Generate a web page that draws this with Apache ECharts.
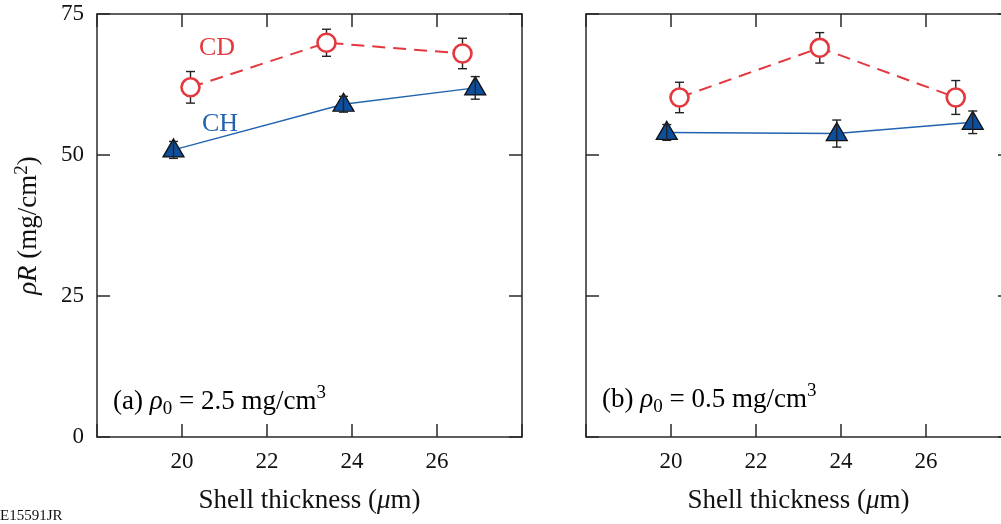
<!DOCTYPE html>
<html>
<head>
<meta charset="utf-8">
<script src="https://cdn.jsdelivr.net/npm/echarts@6/dist/echarts.min.js"></script>
<style>
html,body{margin:0;padding:0;background:#fff;}
#chart{width:1001px;height:524px;}
</style>
</head>
<body>
<div id="chart"></div>
<script>
// ---- data ----
const xTickValues = [20, 22, 24, 26];
const yTickValues = [0, 25, 50, 75];

// panel (a) rho0 = 2.5 mg/cm3
const aCD_x = [20.2, 23.4, 26.6];
const aCD_y = [62.0, 69.9, 68.0];
const aCD_err = [2.8, 2.4, 2.7];
const aCH_x = [19.8, 23.8, 26.9];
const aCH_y = [50.9, 59.0, 61.9];
const aCH_err = [1.5, 1.4, 2.0];

// panel (b) rho0 = 0.5 mg/cm3
const bCD_x = [20.2, 23.5, 26.7];
const bCD_y = [60.2, 69.0, 60.2];
const bCD_err = [2.7, 2.7, 3.0];
const bCH_x = [19.9, 23.9, 27.1];
const bCH_y = [54.0, 53.8, 55.8];
const bCH_err = [1.4, 2.4, 2.0];

const FONT = '"Liberation Serif", "Times New Roman", serif';
const RED = '#e4383f';
const BLUE_LINE = '#2263b0';
const BLUE_FILL = '#0c4f9e';
const AXIS = '#2a2a2a';

function pts(xs, ys) { return xs.map((x, i) => [x, ys[i]]); }
function errPts(xs, ys, es) { return xs.map((x, i) => [x, ys[i] - es[i], ys[i] + es[i]]); }

const chart = echarts.init(document.getElementById('chart'), null, {renderer: 'canvas'});

const grids = [
  {left: 97, top: 14, width: 425, height: 423, outerBoundsMode: 'none', containLabel: false},
  {left: 586, top: 14, width: 425, height: 423, outerBoundsMode: 'none', containLabel: false}
];

const xAxes = [], yAxes = [];
[0, 1].forEach(g => {
  const base = {
    gridIndex: g, type: 'value', min: 18, max: 28, interval: 2,
    splitLine: {show: false},
    axisLine: {show: true, onZero: false, lineStyle: {color: AXIS, width: 1.5}},
    axisTick: {show: true, inside: true, length: 13, lineStyle: {color: AXIS, width: 1.5}}
  };
  xAxes.push(Object.assign({}, base, {
    position: 'bottom',
    axisLabel: {
      show: true, margin: 13, fontFamily: FONT, fontSize: 23, color: '#111',
      formatter: v => (xTickValues.indexOf(v) >= 0 ? String(v) : '')
    },
    name: 'Shell thickness ({i|μ}m)',
    nameLocation: 'middle', nameGap: 50,
    nameTextStyle: {fontFamily: FONT, fontSize: 27, color: '#111',
      rich: {i: {fontFamily: FONT, fontSize: 27, fontStyle: 'italic', color: '#111'}}}
  }));
  xAxes.push(Object.assign({}, base, {
    position: 'top', axisLabel: {show: false}
  }));
  const ybase = {
    gridIndex: g, type: 'value', min: 0, max: 75, interval: 25,
    splitLine: {show: false},
    axisLine: {show: true, onZero: false, lineStyle: {color: AXIS, width: 1.5}},
    axisTick: {show: true, inside: true, length: 13, lineStyle: {color: AXIS, width: 1.5}}
  };
  yAxes.push(Object.assign({}, ybase, {
    position: 'left',
    axisLabel: {show: g === 0, margin: 13, fontFamily: FONT, fontSize: 23, color: '#111',
      formatter: v => (yTickValues.indexOf(v) >= 0 ? String(v) : '')},
    name: g === 0 ? '{i|ρR} (mg/cm{sup|2})' : '',
    nameLocation: 'middle', nameGap: 53, nameRotate: 90,
    nameTextStyle: {fontFamily: FONT, fontSize: 27, color: '#111',
      rich: {
        i: {fontFamily: FONT, fontSize: 27, fontStyle: 'italic', color: '#111'},
        sup: {fontFamily: FONT, fontSize: 19, color: '#111', verticalAlign: 'top', padding: [0, 0, 12, 0]}
      }}
  }));
  yAxes.push(Object.assign({}, ybase, {
    position: 'right', axisLabel: {show: false}
  }));
});

function errSeries(name, data, xIdx, yIdx) {
  return {
    name: name, type: 'custom', xAxisIndex: xIdx, yAxisIndex: yIdx, z: 3,
    data: data, silent: true,
    renderItem: function (params, api) {
      const x = api.value(0);
      const lo = api.coord([x, api.value(1)]);
      const hi = api.coord([x, api.value(2)]);
      const cap = 4.5;
      const st = {stroke: '#222', lineWidth: 1.4, fill: null};
      return {
        type: 'group',
        children: [
          {type: 'line', shape: {x1: lo[0], y1: lo[1], x2: hi[0], y2: hi[1]}, style: st},
          {type: 'line', shape: {x1: lo[0] - cap, y1: lo[1], x2: lo[0] + cap, y2: lo[1]}, style: st},
          {type: 'line', shape: {x1: hi[0] - cap, y1: hi[1], x2: hi[0] + cap, y2: hi[1]}, style: st}
        ]
      };
    }
  };
}

function chSeries(data, xIdx, yIdx) {
  return {
    type: 'line', xAxisIndex: xIdx, yAxisIndex: yIdx, z: 2, data: data,
    symbol: 'triangle', symbolSize: [21, 18], symbolOffset: [0, -2],
    itemStyle: {color: BLUE_FILL, borderColor: '#111', borderWidth: 1.3},
    lineStyle: {color: BLUE_LINE, width: 1.4, type: 'solid'},
    animation: false
  };
}
function cdSeries(data, xIdx, yIdx) {
  return {
    type: 'line', xAxisIndex: xIdx, yAxisIndex: yIdx, z: 4, data: data,
    symbol: 'circle', symbolSize: 18,
    itemStyle: {color: '#ffffff', borderColor: RED, borderWidth: 2.6},
    lineStyle: {color: RED, width: 2, type: [13, 8]},
    animation: false
  };
}

const series = [
  chSeries(pts(aCH_x, aCH_y), 0, 0),
  errSeries('aCHerr', errPts(aCH_x, aCH_y, aCH_err), 0, 0),
  errSeries('aCDerr', errPts(aCD_x, aCD_y, aCD_err), 0, 0),
  cdSeries(pts(aCD_x, aCD_y), 0, 0),
  chSeries(pts(bCH_x, bCH_y), 2, 2),
  errSeries('bCHerr', errPts(bCH_x, bCH_y, bCH_err), 2, 2),
  errSeries('bCDerr', errPts(bCD_x, bCD_y, bCD_err), 2, 2),
  cdSeries(pts(bCD_x, bCD_y), 2, 2)
];

const richPanel = {
  n: {fontFamily: FONT, fontSize: 27, color: '#111'},
  i: {fontFamily: FONT, fontSize: 27, fontStyle: 'italic', color: '#111'},
  sub: {fontFamily: FONT, fontSize: 19, color: '#111', verticalAlign: 'bottom', padding: [16, 0, 0, 0]},
  sup: {fontFamily: FONT, fontSize: 19, color: '#111', verticalAlign: 'top', padding: [0, 0, 12, 0]}
};

const option = {
  backgroundColor: '#ffffff',
  animation: false,
  grid: grids,
  xAxis: xAxes,
  yAxis: yAxes,
  series: series,
  graphic: [
    {type: 'text', left: 113, top: 384, z: 10,
      style: {text: '{n|(a) }{i|ρ}{sub|0}{n| = 2.5 mg/cm}{sup|3}', rich: richPanel}},
    {type: 'text', left: 602, top: 382, z: 10,
      style: {text: '{n|(b) }{i|ρ}{sub|0}{n| = 0.5 mg/cm}{sup|3}', rich: richPanel}},
    {type: 'text', left: 199, top: 35, z: 10,
      style: {text: 'CD', fontFamily: FONT, fontSize: 26, fill: RED}},
    {type: 'text', left: 202, top: 111, z: 10,
      style: {text: 'CH', fontFamily: FONT, fontSize: 26, fill: BLUE_LINE}},
    {type: 'text', left: 0, top: 509, z: 10,
      style: {text: 'E15591JR', fontFamily: FONT, fontSize: 15, fill: '#111'}}
  ]
};
chart.setOption(option);
</script>
</body>
</html>
